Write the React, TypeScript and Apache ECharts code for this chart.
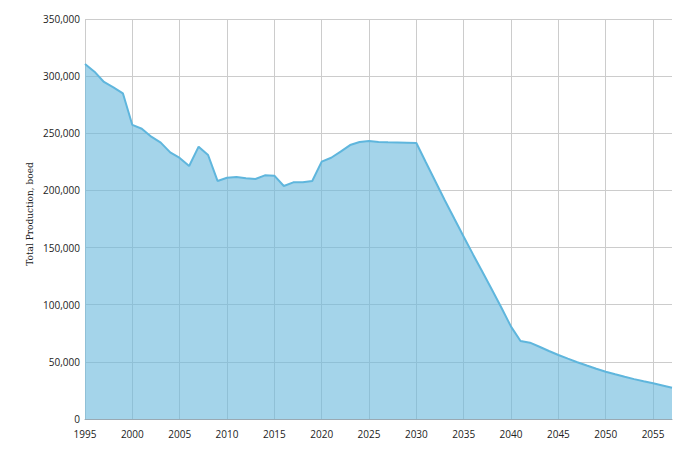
import React, { useEffect, useRef } from "react";
import * as echarts from "echarts";

const years: number[] = [
  1995, 1996, 1997, 1998, 1999, 2000, 2001, 2002, 2003, 2004, 2005, 2006, 2007, 2008, 2009,
  2010, 2011, 2012, 2013, 2014, 2015, 2016, 2017, 2018, 2019, 2020, 2021, 2022, 2023, 2024,
  2025, 2026, 2027, 2028, 2029, 2030, 2031, 2032, 2033, 2034, 2035, 2036, 2037, 2038, 2039,
  2040, 2041, 2042, 2043, 2044, 2045, 2046, 2047, 2048, 2049, 2050, 2051, 2052, 2053, 2054,
  2055, 2056, 2057,
];

const production: number[] = [
  310600, 303900, 294900, 290200, 285000, 257300, 254000, 247000, 241800, 233300, 228400, 221400, 238300, 231000, 208300,
  211100, 211700, 210600, 210000, 213200, 212900, 203900, 207100, 207100, 208300, 225200, 228600, 233900, 239700, 242400,
  243200, 242400, 242100, 242000, 241800, 241500, 224600, 208000, 191400, 175400, 159500, 143800, 128400, 112900, 97100,
  80800, 68300, 66800, 63200, 59500, 56000, 52800, 49700, 46800, 44000, 41400, 39100, 36900, 34900, 33000,
  31200, 29300, 27400,
];

const yAxisTitle = "Total Production, boed";

export default function App() {
  const ref = useRef<HTMLDivElement>(null);

  useEffect(() => {
    if (!ref.current) return;
    const chart = echarts.init(ref.current, undefined, { renderer: "svg" });
    const data = years.map((y, i) => [y, production[i]]);
    chart.setOption({
      animation: false,
      grid: { left: 85, right: 12, top: 19, bottom: 37, containLabel: false },
      graphic: [
        {
          type: "text",
          x: 30,
          y: 214,
          rotation: Math.PI / 2,
          style: {
            text: yAxisTitle,
            fontFamily: "DejaVu Serif",
            fontSize: 9,
            fill: "#222",
            textAlign: "center",
            textVerticalAlign: "middle",
          },
        },
      ],
      xAxis: {
        type: "value",
        min: 1995,
        max: 2057,
        interval: 5,
        axisLine: { show: true, lineStyle: { color: "#9aa9b3", width: 1 } },
        axisTick: { show: false },
        axisLabel: {
          show: true,
          showMaxLabel: false,
          margin: 10,
          color: "#222",
          fontFamily: "Open Sans",
          fontSize: 10,
          formatter: (v: number) => String(v),
        },
        splitLine: { show: true, showMaxLine: false, lineStyle: { color: "#cccccc", width: 1 } },
      },
      yAxis: {
        type: "value",
        min: 0,
        max: 350000,
        interval: 50000,
        axisLine: { show: false },
        axisTick: { show: false },
        axisLabel: {
          margin: 5,
          color: "#222",
          fontFamily: "Open Sans",
          fontSize: 10,
          formatter: (v: number) => v.toLocaleString("en-US"),
        },
        splitLine: { show: true, lineStyle: { color: "#cccccc", width: 1 } },
      },
      series: [
        {
          type: "line",
          data,
          symbol: "none",
          lineStyle: { color: "#5fb6dd", width: 2 },
          areaStyle: { color: "#68b8dc", opacity: 0.6 },
        },
      ],
    });
    return () => chart.dispose();
  }, []);

  return (
    <div
      ref={ref}
      style={{ position: "fixed", left: 0, top: 0, width: 684, height: 456, background: "#fff" }}
    />
  );
}
